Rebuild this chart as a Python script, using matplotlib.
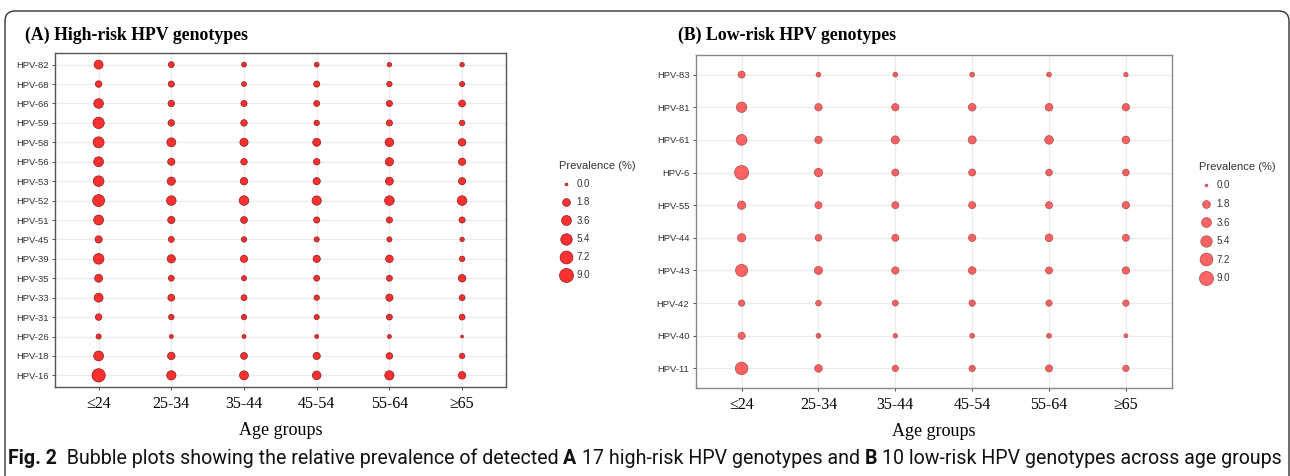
import numpy as np
import matplotlib
matplotlib.use("Agg")
from matplotlib import pyplot as plt
from matplotlib.lines import Line2D
from matplotlib.patches import FancyBboxPatch

# age groups on the x axis
age_groups = ["\u226424", "25-34", "35-44", "45-54", "55-64", "\u226565"]

# (A) high-risk genotypes, bottom row first
hr_types = ["HPV-16", "HPV-18", "HPV-26", "HPV-31", "HPV-33", "HPV-35", "HPV-39",
            "HPV-45", "HPV-51", "HPV-52", "HPV-53", "HPV-56", "HPV-58", "HPV-59",
            "HPV-66", "HPV-68", "HPV-82"]
hr_prev = [
    [7.9, 3.0, 2.7, 2.4, 3.0, 1.6],   # 16
    [3.6, 1.6, 1.2, 1.4, 1.0, 0.5],   # 18
    [0.4, 0.1, 0.1, 0.1, 0.1, 0.0],   # 26
    [1.0, 0.5, 0.5, 0.4, 0.7, 0.7],   # 31
    [2.7, 1.2, 0.7, 0.5, 1.4, 0.7],   # 33
    [1.9, 0.7, 0.4, 0.7, 0.7, 1.6],   # 35
    [4.4, 2.1, 1.4, 1.4, 1.6, 0.5],   # 39
    [1.4, 0.7, 0.5, 0.4, 0.4, 0.2],   # 45
    [3.6, 1.4, 1.2, 0.8, 0.8, 0.8],   # 51
    [6.0, 3.3, 3.3, 3.0, 3.3, 3.3],   # 52
    [4.4, 2.1, 1.6, 1.4, 1.9, 1.4],   # 53
    [3.6, 1.4, 1.0, 1.0, 2.1, 1.4],   # 56
    [4.8, 2.7, 2.1, 1.9, 2.4, 1.6],   # 58
    [5.2, 1.0, 1.0, 0.5, 0.8, 0.5],   # 59
    [3.3, 1.0, 0.8, 0.7, 0.8, 1.2],   # 66
    [1.0, 0.8, 0.3, 0.8, 0.5, 0.4],   # 68
    [2.7, 0.7, 0.3, 0.3, 0.2, 0.2],   # 82
]

# (B) low-risk genotypes, bottom row first
lr_types = ["HPV-11", "HPV-40", "HPV-42", "HPV-43", "HPV-44", "HPV-55", "HPV-6",
            "HPV-61", "HPV-81", "HPV-83"]
lr_prev = [
    [6.9, 1.7, 0.9, 0.9, 1.3, 0.9],   # 11
    [1.3, 0.3, 0.2, 0.3, 0.3, 0.1],   # 40
    [0.9, 0.6, 0.7, 0.9, 0.9, 0.9],   # 42
    [6.4, 2.0, 1.5, 1.7, 1.3, 1.5],   # 43
    [2.2, 1.1, 1.3, 1.5, 1.7, 1.3],   # 44
    [2.2, 1.3, 1.3, 1.3, 1.3, 1.5],   # 55
    [9.2, 2.2, 1.3, 1.3, 1.1, 1.1],   # 6
    [4.6, 1.5, 2.0, 2.0, 2.5, 1.7],   # 61
    [4.2, 1.5, 1.5, 1.7, 1.7, 1.5],   # 81
    [1.3, 0.3, 0.3, 0.3, 0.3, 0.2],   # 83
]

legend_breaks = [0.0, 1.8, 3.6, 5.4, 7.2, 9.0]

W, H = 1290, 476
fig = plt.figure(figsize=(W / 100, H / 100), dpi=100)


def diam_pt(v):
    # ggplot-like area scale: ~3px at 0, ~14px at 9
    d_px = 2.8 + 11.2 * np.sqrt(np.clip(np.asarray(v, float), 0, None) / 9.0)
    return d_px * 0.72


def px_axes(l, t, r, b):
    return fig.add_axes([l / W, 1 - b / H, (r - l) / W, (b - t) / H])


def bubble_panel(ax, types, prev, face, alpha, edge, spine_col):
    vals = np.array(prev)
    xs, ys, ss = [], [], []
    for i in range(len(types)):
        for j in range(len(age_groups)):
            xs.append(j + 1)
            ys.append(i + 1)
            ss.append(diam_pt(vals[i, j]) ** 2)
    ax.scatter(xs, ys, s=ss, c=face, alpha=alpha, edgecolors=edge,
               linewidths=0.5, zorder=3)
    ax.set_xlim(0.4, len(age_groups) + 0.6)
    ax.set_ylim(0.4, len(types) + 0.6)
    ax.set_xticks(range(1, len(age_groups) + 1))
    ax.set_xticklabels(age_groups, fontsize=11.5, family="Liberation Serif")
    ax.set_yticks(range(1, len(types) + 1))
    ax.set_yticklabels(types, fontsize=6.8, family="Liberation Sans",
                       color="#333333")
    ax.grid(True, color="#EBEBEB", linewidth=0.9, zorder=0)
    ax.set_axisbelow(True)
    for sp in ax.spines.values():
        sp.set_color(spine_col)
        sp.set_linewidth(1.0)
    ax.tick_params(length=2.5, width=0.6, color="#333333", pad=2)
    ax.tick_params(axis="x", pad=4)
    ax.set_xlabel("Age groups", fontsize=13, family="Liberation Serif",
                  labelpad=7)


def size_legend(ax, face, alpha, edge, x, y, spacing):
    handles = [Line2D([], [], linestyle="none", marker="o",
                      markersize=diam_pt(b), markerfacecolor=face,
                      markeredgecolor=edge, markeredgewidth=0.5, alpha=alpha)
               for b in legend_breaks]
    labels = ["%.1f" % b for b in legend_breaks]
    leg = ax.legend(handles, labels, title="Prevalence (%)", loc="upper left",
                    bbox_to_anchor=(x / W, 1 - y / H),
                    bbox_transform=fig.transFigure, frameon=False,
                    prop={"family": "Liberation Sans", "size": 7},
                    title_fontproperties={"family": "Liberation Sans", "size": 8},
                    labelspacing=spacing, handletextpad=0.3, handlelength=1.5,
                    borderpad=0, alignment="left")
    for t in leg.get_texts():
        t.set_color("#333333")
    leg.get_title().set_color("#333333")


axA = px_axes(55, 53, 505.7, 387)
bubble_panel(axA, hr_types, hr_prev, "#FF1A1A", 0.9, "#7A1010", "#555555")
size_legend(axA, "#FF1A1A", 0.9, "#7A1010", 554, 156, 0.85)
fig.text(25 / W, 1 - 35 / H, "(A) High-risk HPV genotypes", fontsize=12.8,
         fontweight="bold", family="Liberation Serif", va="center")

axB = px_axes(695.5, 55, 1172, 388)
bubble_panel(axB, lr_types, lr_prev, "#FF3030", 0.75, "#8A3030", "#888888")
size_legend(axB, "#FF3030", 0.75, "#8A3030", 1194, 157, 0.88)
fig.text(678 / W, 1 - 35 / H, "(B) Low-risk HPV genotypes", fontsize=12.8,
         fontweight="bold", family="Liberation Serif", va="center")

# outer frame with rounded top corners
frame = FancyBboxPatch((5, -40), 1284, H - 11 + 40,
                       boxstyle="round,pad=0,rounding_size=10",
                       transform=None, fill=False, edgecolor="#333333",
                       linewidth=1.0)
fig.add_artist(frame)

# caption made of bold and plain pieces
caption = [("Fig. 2", "bold"), ("  Bubble plots showing the relative prevalence of detected ", "normal"),
           ("A", "bold"), (" 17 high-risk HPV genotypes and ", "normal"),
           ("B", "bold"), (" 10 low-risk HPV genotypes across age groups", "normal")]
cap_fam = ["Roboto", "DejaVu Sans"]
fig.canvas.draw()
rend = fig.canvas.get_renderer()


def draw_caption(fs):
    arts = []
    x = 8
    for txt, wt in caption:
        t = fig.text(x / W, 1 - 458 / H, txt, fontsize=fs, fontweight=wt,
                     family=cap_fam, va="center", color="#111111")
        arts.append(t)
        x += t.get_window_extent(rend).width
    return arts, x


arts, x_end = draw_caption(12)
scale = (1282 - 8) / (x_end - 8)
for a in arts:
    a.remove()
draw_caption(12 * scale)

fig.savefig("out.png", dpi=100)
